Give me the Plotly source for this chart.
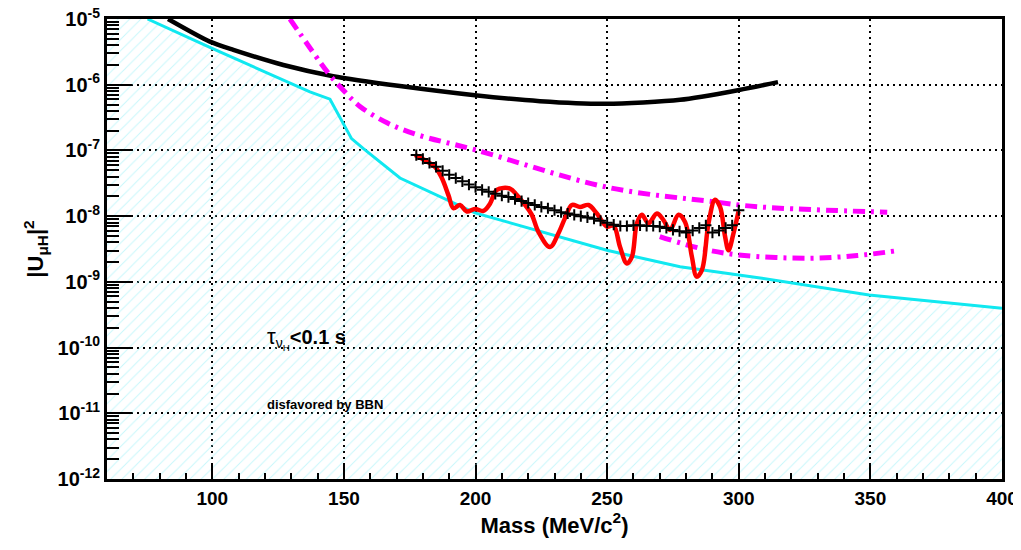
import plotly.graph_objects as go

# ---- data (mass in MeV/c^2, values in log10 |U|^2) ----
bbn_mass = [75.4, 99.5, 137.1, 144.7, 152.9, 157.3, 171.3, 199.8, 249.9, 277.7, 308.1, 349.5, 400.0]
bbn_log = [-5.00, -5.44, -6.11, -6.22, -6.82, -6.97, -7.42, -7.95, -8.52, -8.77, -8.94, -9.20, -9.40]

black_mass = [83.2, 99.1, 108.0, 127.0, 145.9, 171.3, 199.8, 224.5, 249.6, 277.7, 300.1, 314.9]
black_log = [-5.00, -5.345, -5.47, -5.70, -5.87, -6.02, -6.16, -6.25, -6.29, -6.23, -6.08, -5.96]

mag1_mass = [129.5, 144.0, 149.7, 156.1, 166.4, 177.8, 199.8, 250.0, 290.2, 308.1, 356.4]
mag1_log = [-5.00, -5.82, -6.08, -6.33, -6.58, -6.76, -6.99, -7.56, -7.78, -7.86, -7.94]

mag2_mass = [270.0, 285.3, 300.0, 325.9, 345.0, 359.4]
mag2_log = [-8.31, -8.49, -8.59, -8.64, -8.60, -8.53]

red_mass = [177.0, 180.8, 184.6, 187.2, 189.7, 191.6, 194.1, 196.7, 199.8, 203.0, 205.5, 208.1,
            213.1, 215.7, 218.8, 221.4, 223.9, 228.3, 231.5, 234.0, 236.6, 239.7, 242.9, 246.1,
            249.9, 252.4, 254.9, 257.5, 259.4, 261.3, 263.2, 265.7, 268.9, 271.4, 273.9, 277.1,
            279.6, 282.2, 284.0, 286.0, 288.5, 291.0, 292.9, 294.8, 296.1, 298.0, 299.9]
red_log = [-7.07, -7.15, -7.25, -7.42, -7.68, -7.88, -7.83, -7.93, -7.89, -7.92, -7.81, -7.60,
           -7.58, -7.68, -7.83, -7.98, -8.24, -8.47, -8.26, -8.03, -7.83, -7.86, -7.83, -7.96,
           -8.16, -8.14, -8.47, -8.72, -8.62, -8.11, -7.98, -8.11, -7.96, -8.06, -8.21, -7.98,
           -8.09, -8.62, -8.92, -8.82, -8.11, -7.75, -7.86, -8.31, -8.52, -8.26, -7.93]

cross_mass = [177.5, 180, 182.5, 185, 187.5, 190, 192.5, 195, 197.5, 200, 202.5, 205, 207.5, 210,
              212.5, 215, 217.5, 220, 222.5, 225, 227.5, 230, 232.5, 235, 237.5, 240, 242.5, 245,
              247.5, 250, 252.5, 255, 257.5, 260, 262.5, 265, 267.5, 270, 272.5, 275, 277.5, 280,
              282.5, 285, 287.5, 290, 292.5, 295, 297.5, 300]
cross_log = [-7.07, -7.13, -7.19, -7.25, -7.31, -7.37, -7.42, -7.47, -7.52, -7.56, -7.60, -7.63,
             -7.66, -7.69, -7.71, -7.74, -7.77, -7.80, -7.83, -7.86, -7.88, -7.91, -7.94, -7.96,
             -7.98, -8.00, -8.02, -8.04, -8.07, -8.10, -8.13, -8.15, -8.15, -8.14, -8.14, -8.15,
             -8.15, -8.16, -8.18, -8.21, -8.23, -8.25, -8.22, -8.18, -8.14, -8.25, -8.22, -8.18,
             -8.14, -7.91]

x_ticks = [100, 150, 200, 250, 300, 350, 400]
y_exps = [-12, -11, -10, -9, -8, -7, -6, -5]

X_MIN, X_MAX = 60, 400

def pw(v):
    return [10 ** e for e in v]

fig = go.Figure()

# hatched BBN-disfavored region
poly_x = [X_MIN] + bbn_mass + [X_MAX, X_MIN, X_MIN]
poly_y = [1e-5] + pw(bbn_log) + [1e-13, 1e-13, 1e-5]
fig.add_trace(go.Scatter(
    x=poly_x, y=poly_y, mode="lines", fill="toself",
    fillcolor="rgba(0,0,0,0)", line=dict(width=0, color="rgba(0,0,0,0)"),
    fillpattern=dict(shape="/", fgcolor="#8ff0f8", bgcolor="rgba(0,0,0,0)",
                     size=8, solidity=0.12, fillmode="overlay"),
    hoverinfo="skip", showlegend=False))

fig.add_trace(go.Scatter(x=bbn_mass, y=pw(bbn_log), mode="lines",
                         line=dict(color="#10e8f0", width=3), showlegend=False))
fig.add_trace(go.Scatter(x=black_mass, y=pw(black_log), mode="lines",
                         line=dict(color="black", width=4.5, shape="spline", smoothing=0.7), showlegend=False))
fig.add_trace(go.Scatter(x=mag1_mass, y=pw(mag1_log), mode="lines",
                         line=dict(color="#ff00ff", width=5, dash="12px,6px,3px,6px", shape="spline"),
                         showlegend=False))
fig.add_trace(go.Scatter(x=mag2_mass, y=pw(mag2_log), mode="lines",
                         line=dict(color="#ff00ff", width=5, dash="12px,6px,3px,6px", shape="spline"),
                         showlegend=False))
fig.add_trace(go.Scatter(x=red_mass, y=pw(red_log), mode="lines",
                         line=dict(color="#ff0000", width=4.5, shape="spline", smoothing=1.0),
                         showlegend=False))
fig.add_trace(go.Scatter(x=cross_mass, y=pw(cross_log), mode="markers",
                         marker=dict(symbol="cross-thin", size=8, color="black",
                                     line=dict(width=2, color="black")),
                         showlegend=False))

minor_y = [m * 10 ** e for e in range(-12, -5) for m in range(2, 10)]

fig.update_layout(
    width=1021, height=550,
    margin=dict(l=99, r=27, t=11, b=79, autoexpand=False),
    paper_bgcolor="white", plot_bgcolor="white",
    font=dict(family="Liberation Sans", color="black"),
    xaxis=dict(
        range=[X_MIN, X_MAX], tickvals=x_ticks, ticktext=[str(v) for v in x_ticks],
        ticks="inside", ticklen=14, tickwidth=2, tickcolor="black", ticklabeloverflow="allow",
        tickfont=dict(size=19, family="Liberation Sans", weight="bold"),
        showgrid=True, gridcolor="black", gridwidth=2, griddash="2px,4px",
        showline=True, linecolor="black", linewidth=3, mirror=True,
        minor=dict(dtick=10, tick0=0, ticks="inside", ticklen=6, tickwidth=2, tickcolor="black", showgrid=False),
        zeroline=False, automargin=False,
        title=dict(text="<b>Mass (MeV/c<sup>2</sup>)</b>", font=dict(size=22, family="Liberation Sans"),
                   standoff=10),
    ),
    yaxis=dict(
        type="log", range=[-12.0001, -4.9999],
        tickvals=[10 ** e for e in y_exps], ticktext=["10<sup>%d</sup>" % e for e in y_exps],
        ticks="inside", ticklen=25, tickwidth=2, tickcolor="black", ticklabeloverflow="allow",
        tickfont=dict(size=20, family="Liberation Sans", weight="bold"),
        showgrid=True, gridcolor="black", gridwidth=2, griddash="2px,4px",
        showline=True, linecolor="black", linewidth=3, mirror=True,
        minor=dict(tickvals=minor_y, ticks="inside", ticklen=12, tickwidth=2, tickcolor="black", showgrid=False),
        zeroline=False, automargin=False,
        title=dict(text="<b>|U<sub>μH</sub>|<sup>2</sup></b>", font=dict(size=22, family="Liberation Sans"),
                   standoff=8),
    ),
    annotations=[
        dict(x=120, y=-9.86, xref="x", yref="y", xanchor="left", yanchor="middle", showarrow=False,
             text="<span style='font-size:22px'>τ</span><sub>ν<sub>H</sub></sub><b><0.1 s</b>",
             font=dict(size=20, family="Liberation Sans")),
        dict(x=120, y=-10.86, xref="x", yref="y", xanchor="left", yanchor="middle", showarrow=False,
             text="<b>disfavored by BBN</b>", font=dict(size=13, family="Liberation Sans")),
    ],
)

fig.write_html("out.html")
